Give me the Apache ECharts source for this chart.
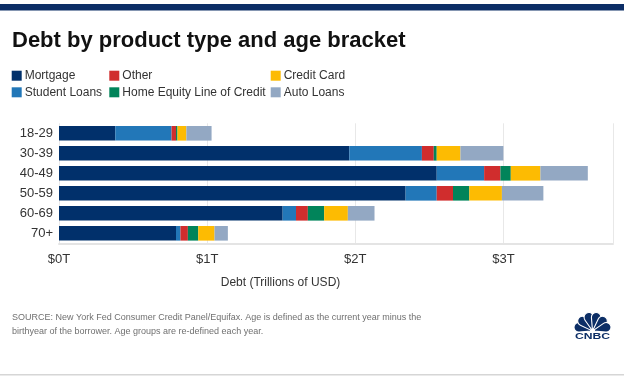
<!DOCTYPE html>
<html>
<head>
<meta charset="utf-8">
<style>
  html, body { margin: 0; padding: 0; background: #fff; }
  #chart { width: 624px; height: 377px; }
</style>
<script src="https://cdn.jsdelivr.net/npm/echarts@6/dist/echarts.min.js"></script>
</head>
<body>
<div id="chart"></div>
<script>
  // age brackets, top to bottom
  var ages = ['18-29', '30-39', '40-49', '50-59', '60-69', '70+']
  // debt in trillions of USD
  var mortgage = [0.38, 1.96, 2.55, 2.34, 1.51, 0.79]
  var studentLoans = [0.38, 0.49, 0.32, 0.21, 0.09, 0.03]
  var other = [0.03, 0.08, 0.11, 0.11, 0.08, 0.05]
  var heloc = [0.01, 0.02, 0.07, 0.11, 0.11, 0.07]
  var creditCard = [0.06, 0.16, 0.20, 0.22, 0.16, 0.11]
  var autoLoans = [0.17, 0.29, 0.32, 0.28, 0.18, 0.09]
  var xTicks = ['$0T', '$1T', '$2T', '$3T']

  var FONT = 'Liberation Sans, Arial, sans-serif'
  var NAVY = '#0c2e66'

  var chart = echarts.init(document.getElementById('chart'))

  function series(name, data, color) {
    return {
      name: name,
      type: 'bar',
      stack: 'debt',
      barWidth: 14.6,
      itemStyle: { color: color },
      emphasis: { disabled: true },
      data: data
    }
  }

  function legend(left, names) {
    return {
      left: left,
      top: 69.7,
      padding: 0,
      orient: 'vertical',
      itemWidth: 10,
      itemHeight: 10,
      itemGap: 4.6,
      icon: 'rect',
      selectedMode: false,
      textStyle: { fontFamily: FONT, fontSize: 12, color: '#333', padding: [0, 0, 0, -2] },
      data: names
    }
  }

  // peacock feathers for the logo: six rounded fan slices
  var feathers = []
  for (var i = 0; i < 6; i++) {
    feathers.push({
      type: 'sector',
      shape: {
        cx: 592.5, cy: 331, r: 19, r0: 2,
        startAngle: Math.PI * (1 + i / 6) - 0.08,
        endAngle: Math.PI * (1 + (i + 1) / 6) + 0.08,
        cornerRadius: [0, 5]
      },
      style: { fill: NAVY, stroke: '#fff', lineWidth: 1.1 },
      silent: true
    })
  }

  chart.setOption({
    animation: false,
    grid: { left: 59, right: 11, top: 123.3, height: 120, containLabel: false },
    legend: [
      legend(11.7, ['Mortgage', 'Student Loans']),
      legend(109.3, ['Other', 'Home Equity Line of Credit']),
      legend(270.7, ['Credit Card', 'Auto Loans'])
    ],
    xAxis: {
      type: 'value',
      min: 0,
      max: 3.74,
      interval: 1,
      axisLine: { show: true, lineStyle: { color: '#e4e4e4', width: 2 } },
      axisTick: { show: false },
      axisLabel: {
        margin: 10,
        fontFamily: FONT,
        fontSize: 13,
        color: '#333',
        formatter: function(v) { return xTicks[Math.round(v)] || '' }
      },
      splitLine: { show: true, lineStyle: { color: '#e8e8e8', width: 1 } }
    },
    yAxis: {
      type: 'category',
      inverse: true,
      data: ages,
      axisLine: { show: false },
      axisTick: { show: false },
      axisLabel: { margin: 6, fontFamily: FONT, fontSize: 13, color: '#333' }
    },
    graphic: [
      { type: 'rect', left: 0, top: 4, shape: { width: 624, height: 6.5 }, style: { fill: NAVY } },
      {
        type: 'text', left: 12, top: 30,
        style: { text: 'Debt by product type and age bracket', font: 'bold 22px ' + FONT, fill: '#111' }
      },
      {
        type: 'text', x: 280.5, y: 282.5,
        style: { text: 'Debt (Trillions of USD)', font: '12px ' + FONT, fill: '#333', align: 'center', verticalAlign: 'middle' }
      },
      {
        type: 'text', left: 12, top: 311,
        style: {
          text: 'SOURCE: New York Fed Consumer Credit Panel/Equifax. Age is defined as the current year minus the\nbirthyear of the borrower. Age groups are re-defined each year.',
          font: '9px ' + FONT, fill: '#707070', lineHeight: 13.4
        }
      },
      {
        type: 'group',
        children: feathers.concat([
          { type: 'circle', shape: { cx: 592.5, cy: 331, r: 2.2 }, style: { fill: '#fff' } },
          {
            type: 'text', x: 592.5, y: 337, scaleX: 1.35,
            style: { text: 'CNBC', font: 'bold 9px ' + FONT, fill: NAVY, align: 'center', verticalAlign: 'middle' }
          }
        ])
      },
      { type: 'rect', left: 0, top: 374, shape: { width: 624, height: 1.5 }, style: { fill: '#d6d6d6' } }
    ],
    series: [
      series('Mortgage', mortgage, '#01306b'),
      series('Student Loans', studentLoans, '#2277b8'),
      series('Other', other, '#d02d2d'),
      series('Home Equity Line of Credit', heloc, '#01845a'),
      series('Credit Card', creditCard, '#fdbb02'),
      series('Auto Loans', autoLoans, '#93a8c3')
    ]
  })
</script>
</body>
</html>
